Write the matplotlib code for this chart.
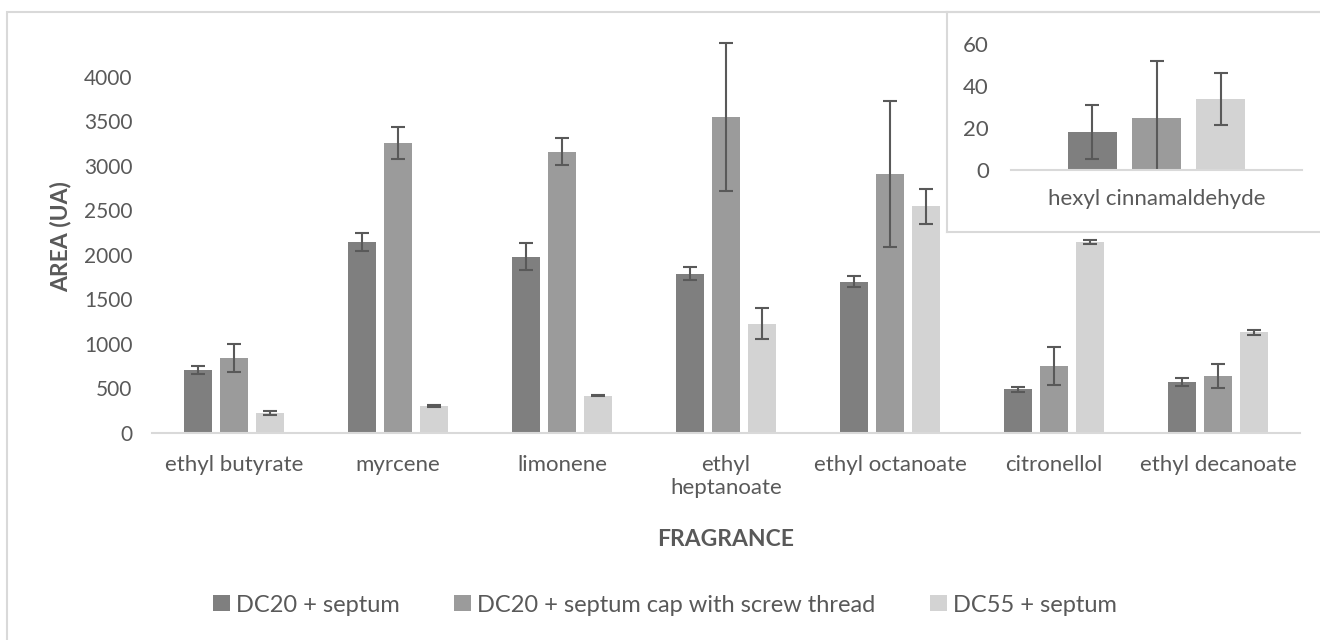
import matplotlib.pyplot as plt
import numpy as np
from matplotlib.patches import Rectangle

plt.rcParams['font.family'] = ['Lato', 'DejaVu Sans']

fragrances = ["ethyl butyrate", "myrcene", "limonene", "ethyl\nheptanoate",
              "ethyl octanoate", "citronellol", "ethyl decanoate"]
series_names = ["DC20 + septum", "DC20 + septum cap with screw thread", "DC55 + septum"]

dc20_septum = [710, 2150, 1980, 1790, 1700, 490, 570]
dc20_septum_err = [45, 100, 150, 73, 60, 25, 45]
dc20_screw = [840, 3260, 3160, 3550, 2910, 755, 640]
dc20_screw_err = [160, 180, 150, 830, 820, 215, 135]
dc55_septum = [225, 300, 420, 1230, 2545, 2145, 1130]
dc55_septum_err = [20, 12, 8, 175, 197, 25, 30]

inset_label = ["hexyl cinnamaldehyde"]
inset_values = [18, 24.6, 33.6]
inset_err = [12.8, 27, 12.4]

colors = ["#7f7f7f", "#9b9b9b", "#d3d3d3"]
text_color = "#595959"
line_color = "#d9d9d9"
err_style = dict(ecolor="#595959", elinewidth=1.5, capsize=5, capthick=1.5)

fig = plt.figure(figsize=(13.2, 6.4), dpi=100)
W, H = 1320, 640

# outer chart frame
fig.patches.append(Rectangle((7 / W, -0.01), 1.02, 1 - 12 / H + 0.01, transform=fig.transFigure,
                             fill=False, edgecolor=line_color, linewidth=1.5))

ax = fig.add_axes([152 / W, 1 - 433 / H, (1300 - 152) / W, (433 - 32.5) / H])
x = np.arange(len(fragrances))
bw = 0.17
off = 0.22
values = [dc20_septum, dc20_screw, dc55_septum]
errs = [dc20_septum_err, dc20_screw_err, dc55_septum_err]
for i in range(3):
    ax.bar(x + (i - 1) * off, values[i], bw, color=colors[i], label=series_names[i],
           yerr=errs[i], error_kw=err_style)

ax.set_xlim(-0.5, len(fragrances) - 0.5)
ax.set_ylim(0, 4500)
ax.set_yticks(range(0, 4001, 500))
ax.set_xticks(x)
ax.set_xticklabels(fragrances, linespacing=1.15)
ax.tick_params(axis='both', length=0, colors=text_color)
ax.tick_params(axis='x', pad=16, labelsize=16)
ax.tick_params(axis='y', pad=14, labelsize=15)
for s in ["top", "right", "left"]:
    ax.spines[s].set_visible(False)
ax.spines["bottom"].set_color(line_color)
ax.spines["bottom"].set_linewidth(1.5)
ax.set_ylabel("AREA (UA)", fontsize=16.5, fontweight="bold", color=text_color)
ax.yaxis.set_label_coords(-0.070, 0.49)
ax.set_xlabel("FRAGRANCE", fontsize=16.5, fontweight="bold", color=text_color)
ax.xaxis.set_label_coords(0.5, -0.24)

leg = fig.legend(loc="center", bbox_to_anchor=(665 / W, 1 - 605 / H), ncol=3, frameon=False,
                 fontsize=17, handlelength=0.72, handleheight=0.64, handletextpad=0.25,
                 columnspacing=2.3)
for t in leg.get_texts():
    t.set_color(text_color)

# inset box
box = fig.add_axes([947 / W, 1 - 232 / H, (1330 - 947) / W, (232 - 12) / H])
box.set_xticks([])
box.set_yticks([])
for s in box.spines.values():
    s.set_color(line_color)
    s.set_linewidth(1.5)

ins = fig.add_axes([1011 / W, 1 - 170 / H, (1302 - 1011) / W, (170 - 33) / H])
for i in range(3):
    ins.bar([(i - 1) * off], [inset_values[i]], bw, color=colors[i],
            yerr=[inset_err[i]], error_kw=err_style)
ins.set_xlim(-0.5, 0.5)
ins.set_ylim(0, 65)
ins.set_yticks([0, 20, 40, 60])
ins.set_xticks([0])
ins.set_xticklabels(inset_label)
ins.tick_params(axis='both', length=0, labelsize=16, colors=text_color)
ins.tick_params(axis='x', pad=14)
ins.tick_params(axis='y', pad=16)
ins.patch.set_alpha(0)
for s in ["top", "right", "left"]:
    ins.spines[s].set_visible(False)
ins.spines["bottom"].set_color(line_color)
ins.spines["bottom"].set_linewidth(1.5)

fig.savefig("out.png", dpi=100)
